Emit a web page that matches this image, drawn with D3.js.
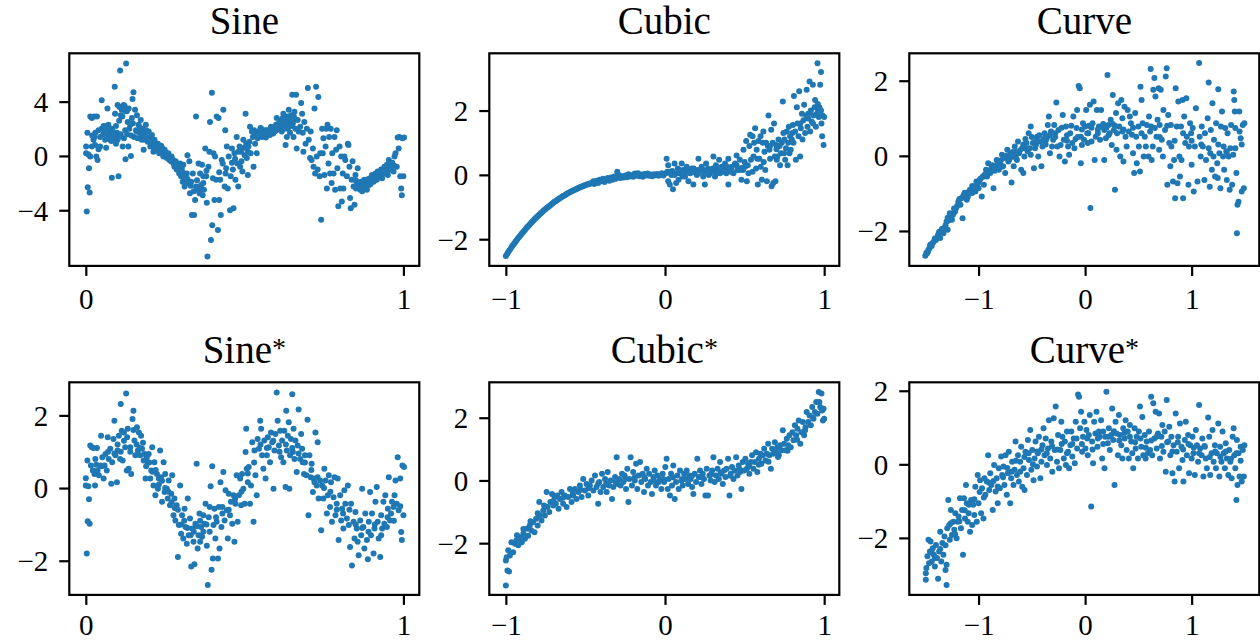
<!DOCTYPE html>
<html><head><meta charset="utf-8">
<script src="https://cdn.jsdelivr.net/npm/d3@7"></script>
<style>
body{margin:0;background:#fff}
svg{display:block}
</style>
</head><body>
<svg id="chart" width="1260" height="642"></svg>
<script>
// ---------- data ----------
const titles = ["Sine", "Cubic", "Curve", "Sine", "Cubic", "Curve"];
const starred = [false, false, false, true, true, true];
const xTicks = [[0, 1], [-1, 0, 1], [-1, 0, 1], [0, 1], [-1, 0, 1], [-1, 0, 1]];
const yTicks = [[-4, 0, 4], [-2, 0, 2], [-2, 0, 2], [-2, 0, 2], [-2, 0, 2], [-2, 0, 2]];
const xLims = [[-0.052, 1.05], [-1.104, 1.095], [-1.65, 1.635], [-0.052, 1.05], [-1.104, 1.095], [-1.65, 1.635]];
const yLims = [[-8.1, 7.56], [-2.83, 3.78], [-2.93, 2.73], [-2.94, 2.91], [-3.65, 3.13], [-3.55, 2.23]];

const sine = [[0.001,0.2],[0.001,0.7],[0.003,-4.1],[0.005,1.7],[0.006,-2.3],[0.012,-2.7],[0.01,-0.9],[0.008,0.1],[0.014,-0.05],[0.014,2.9],[0.019,2.8],[0.026,2.9],[0.035,2.9],[0.024,1.2],[0.019,0.7],[0.029,0.8],[0.033,-0.05],[0.037,-0.3],[0.027,1.4],[0.04,1.9],[0.045,1.4],[0.05,4.1],[0.045,0.7],[0.05,2.0],[0.056,2.2],[0.061,1.2],[0.064,0.6],[0.068,3.5],[0.066,2.2],[0.071,2.3],[0.075,1.7],[0.077,1.2],[0.082,-1.6],[0.082,2.0],[0.087,1.4],[0.091,5.1],[0.092,3.1],[0.095,0.9],[0.098,1.7],[0.103,-1.5],[0.1,3.75],[0.106,3.6],[0.103,1.4],[0.108,6.3],[0.11,3.0],[0.113,3.4],[0.116,0.7],[0.119,3.75],[0.122,3.7],[0.125,-0.25],[0.127,6.8],[0.124,1.9],[0.129,3.3],[0.132,2.5],[0.134,0.7],[0.137,2.0],[0.142,0.0],[0.143,1.5],[0.147,4.2],[0.15,4.7],[0.148,2.4],[0.155,3.4],[0.152,1.4],[0.158,1.9],[0.161,3.0],[0.163,1.3],[0.166,2.3],[0.169,1.7],[0.173,2.65],[0.176,1.2],[0.179,2.0],[0.182,0.45],[0.185,1.7],[0.189,2.3],[0.192,1.4],[0.195,1.05],[0.198,1.8],[0.203,0.7],[0.206,1.3],[0.208,1.55],[0.211,0.9],[0.213,0.3],[0.216,1.2],[0.219,0.7],[0.224,0.45],[0.227,0.9],[0.231,0.2],[0.234,0.55],[0.237,0.75],[0.241,0.3],[0.244,-0.05],[0.248,0.45],[0.252,0.1],[0.255,-0.15],[0.26,-0.05],[0.263,-0.3],[0.268,-0.4],[0.271,-0.25],[0.276,-0.55],[0.279,-0.8],[0.283,-0.4],[0.286,-1.0],[0.29,-0.65],[0.294,-1.3],[0.297,-0.55],[0.3,-1.5],[0.302,-0.9],[0.305,-1.9],[0.307,-0.65],[0.311,-2.25],[0.314,-1.65],[0.318,-1.3],[0.32,0.05],[0.323,-2.0],[0.326,-0.4],[0.328,-2.75],[0.332,-1.9],[0.334,-4.35],[0.337,-1.3],[0.341,-4.35],[0.344,-3.25],[0.347,2.9],[0.347,-2.25],[0.351,-2.5],[0.355,-0.55],[0.358,-2.75],[0.36,-1.3],[0.363,-2.15],[0.366,-0.65],[0.368,-2.9],[0.37,-1.5],[0.372,-2.5],[0.376,0.55],[0.379,-1.5],[0.381,-3.45],[0.383,-7.4],[0.386,-0.8],[0.389,0.3],[0.391,2.5],[0.394,-6.2],[0.397,4.65],[0.398,-5.1],[0.4,-1.65],[0.402,0.2],[0.405,-3.25],[0.407,-0.05],[0.41,-1.75],[0.412,2.9],[0.416,-5.45],[0.418,2.8],[0.42,-3.25],[0.423,-1.75],[0.425,-4.35],[0.428,-0.3],[0.431,-0.55],[0.433,3.4],[0.437,-2.25],[0.439,1.9],[0.442,-0.9],[0.444,0.7],[0.447,-2.4],[0.45,-0.05],[0.454,-4.0],[0.456,-1.5],[0.46,0.55],[0.463,-1.0],[0.465,-3.85],[0.468,0.2],[0.471,-1.75],[0.475,1.4],[0.477,-0.55],[0.48,-2.25],[0.484,0.7],[0.486,-0.8],[0.489,0.3],[0.493,-1.15],[0.496,1.2],[0.5,0.05],[0.503,3.1],[0.505,0.9],[0.507,-0.15],[0.51,-1.4],[0.512,0.7],[0.515,1.05],[0.517,2.15],[0.519,0.2],[0.523,1.8],[0.526,1.4],[0.528,-0.8],[0.531,1.55],[0.533,0.9],[0.536,1.7],[0.538,0.2],[0.541,1.3],[0.545,1.8],[0.549,1.55],[0.552,2.0],[0.555,1.4],[0.559,1.7],[0.562,1.8],[0.567,1.35],[0.57,1.9],[0.573,1.7],[0.577,1.85],[0.58,1.55],[0.583,2.15],[0.588,1.8],[0.591,2.0],[0.595,1.8],[0.599,2.3],[0.601,2.8],[0.604,2.0],[0.608,2.4],[0.612,2.15],[0.615,2.65],[0.617,1.8],[0.62,2.5],[0.622,3.1],[0.625,2.3],[0.629,0.8],[0.631,2.8],[0.633,1.4],[0.636,2.0],[0.639,3.4],[0.641,2.65],[0.643,1.7],[0.646,3.0],[0.65,4.5],[0.652,2.4],[0.654,1.4],[0.657,3.25],[0.66,2.0],[0.662,4.5],[0.664,0.55],[0.667,2.65],[0.67,1.8],[0.675,2.15],[0.678,3.9],[0.681,3.1],[0.683,1.7],[0.685,0.3],[0.688,2.5],[0.692,0.9],[0.696,2.0],[0.699,5.0],[0.702,1.2],[0.706,-0.15],[0.708,1.8],[0.711,-0.3],[0.715,0.55],[0.717,-0.8],[0.72,3.5],[0.722,-1.3],[0.725,5.1],[0.727,-0.05],[0.73,-1.0],[0.732,4.35],[0.736,-1.5],[0.738,0.2],[0.741,-4.7],[0.744,2.0],[0.746,0.2],[0.748,1.3],[0.751,-1.4],[0.755,0.7],[0.757,2.0],[0.759,-2.4],[0.761,2.3],[0.764,-0.55],[0.766,1.4],[0.769,-1.3],[0.771,2.0],[0.774,-2.0],[0.776,0.2],[0.78,-1.3],[0.783,1.4],[0.785,-2.5],[0.788,0.45],[0.79,1.9],[0.792,-0.9],[0.795,-3.7],[0.799,0.7],[0.801,-2.4],[0.804,-0.05],[0.806,-3.35],[0.809,-1.3],[0.811,-2.4],[0.814,-0.05],[0.817,-0.3],[0.822,-1.5],[0.825,0.9],[0.827,0.8],[0.83,-0.8],[0.832,-3.1],[0.834,-3.85],[0.837,-1.75],[0.84,-0.4],[0.843,-2.25],[0.846,-3.6],[0.849,-1.4],[0.851,-2.4],[0.853,-1.9],[0.856,-0.9],[0.859,-2.15],[0.864,-2.5],[0.867,-1.9],[0.87,-2.6],[0.874,-2.15],[0.877,-1.75],[0.88,-2.25],[0.885,-2.5],[0.888,-1.9],[0.891,-2.15],[0.895,-1.65],[0.898,-2.0],[0.901,-1.4],[0.906,-1.9],[0.909,-1.5],[0.912,-1.3],[0.916,-1.75],[0.919,-1.15],[0.922,-1.5],[0.927,-1.4],[0.93,-1.0],[0.933,-1.65],[0.937,-1.3],[0.94,-0.8],[0.943,-1.3],[0.948,-0.65],[0.951,-1.4],[0.954,-0.3],[0.958,-1.0],[0.961,-0.55],[0.964,-0.8],[0.969,-1.15],[0.972,-0.05],[0.975,0.2],[0.979,-0.8],[0.982,1.35],[0.985,0.55],[0.987,1.4],[0.99,-1.5],[0.993,-2.4],[0.995,-2.9],[0.997,1.3],[1.0,-1.5],[1.002,1.35]];
const sineDense = [[0.16,1.8],[0.17,2.1],[0.175,1.5],[0.185,1.2],[0.19,1.9],[0.2,1.1],[0.205,0.95],[0.21,1.1],[0.215,0.6],[0.22,0.95],[0.225,0.7],[0.23,0.55],[0.235,0.3],[0.24,0.6],[0.245,0.15],[0.25,0.3],[0.255,0.0],[0.26,0.2],[0.265,-0.15],[0.27,-0.05],[0.275,-0.3],[0.28,-0.55],[0.285,-0.65],[0.29,-0.9],[0.295,-1.05],[0.3,-0.7],[0.305,-1.2],[0.31,-1.5],[0.315,-2.0],[0.32,-1.7],[0.02,1.5],[0.03,1.7],[0.04,0.5],[0.055,1.6],[0.06,1.9],[0.07,1.5],[0.075,2.0],[0.08,1.1],[0.085,1.8],[0.09,1.3],[0.095,2.2],[0.1,1.2],[0.105,2.6],[0.11,1.6],[0.115,2.9],[0.12,1.3],[0.125,3.3],[0.13,1.6],[0.135,3.5],[0.14,2.3],[0.145,2.8],[0.53,1.9],[0.54,1.5],[0.545,1.6],[0.55,2.05],[0.56,1.5],[0.565,1.9],[0.575,1.6],[0.58,1.95],[0.59,1.65],[0.595,2.1],[0.6,1.9],[0.605,2.3],[0.61,2.0],[0.615,2.3],[0.62,2.8],[0.625,2.0],[0.63,2.5],[0.635,2.9],[0.64,2.3],[0.645,2.5],[0.65,2.2],[0.655,2.9],[0.66,2.7],[0.85,-1.8],[0.86,-2.3],[0.865,-2.1],[0.87,-1.9],[0.875,-2.4],[0.88,-1.95],[0.885,-2.2],[0.89,-1.7],[0.895,-2.1],[0.9,-1.8],[0.905,-1.6],[0.91,-1.8],[0.915,-1.4],[0.92,-1.6],[0.925,-1.2],[0.93,-1.45],[0.935,-1.1],[0.94,-1.25],[0.945,-1.0],[0.95,-1.15],[0.955,-0.75],[0.96,-0.95],[0.965,-0.5],[0.97,-0.7],[0.33,-2.2],[0.34,-2.6],[0.35,-1.8],[0.36,-2.4],[0.37,-2.0],[0.38,-1.1],[0.42,-1.2],[0.44,-1.3],[0.46,-0.5],[0.47,-0.2],[0.48,0.3],[0.49,-0.4],[0.5,0.6],[0.51,0.3]];

const cubic = [[-1.0,-2.52],[-0.992,-2.46],[-0.985,-2.40],[-0.977,-2.34],[-0.97,-2.29],[-0.962,-2.23],[-0.955,-2.18],[-0.947,-2.13],[-0.94,-2.08],[-0.932,-2.03],[-0.925,-1.98],[-0.917,-1.93],[-0.91,-1.89],[-0.902,-1.84],[-0.895,-1.80],[-0.887,-1.75],[-0.88,-1.71],[-0.872,-1.66],[-0.865,-1.62],[-0.857,-1.58],[-0.85,-1.54],[-0.842,-1.50],[-0.835,-1.46],[-0.827,-1.42],[-0.82,-1.38],[-0.812,-1.34],[-0.805,-1.31],[-0.797,-1.27],[-0.79,-1.24],[-0.782,-1.20],[-0.775,-1.17],[-0.767,-1.13],[-0.76,-1.10],[-0.752,-1.07],[-0.745,-1.04],[-0.737,-1.01],[-0.73,-0.98],[-0.722,-0.95],[-0.715,-0.92],[-0.707,-0.89],[-0.70,-0.86],[-0.692,-0.83],[-0.685,-0.81],[-0.677,-0.78],[-0.67,-0.76],[-0.662,-0.73],[-0.655,-0.71],[-0.647,-0.68],[-0.64,-0.66],[-0.632,-0.64],[-0.625,-0.62],[-0.617,-0.59],[-0.61,-0.57],[-0.602,-0.55],[-0.595,-0.53],[-0.587,-0.51],[-0.58,-0.49],[-0.572,-0.47],[-0.565,-0.46],[-0.557,-0.44],[-0.55,-0.42],[-0.542,-0.40],[-0.535,-0.39],[-0.527,-0.37],[-0.52,-0.36],[-0.512,-0.34],[-0.505,-0.33],[-0.497,-0.31],[-0.49,-0.30],[-0.482,-0.29],[-0.475,-0.28],[-0.467,-0.26],[-0.46,-0.25],[-0.45,-0.20],[-0.445,-0.28],[-0.44,-0.22],[-0.43,-0.18],[-0.42,-0.25],[-0.41,-0.15],[-0.40,-0.20],[-0.39,-0.12],[-0.38,-0.22],[-0.37,-0.14],[-0.36,-0.10],[-0.35,-0.18],[-0.34,-0.08],[-0.33,-0.15],[-0.32,-0.05],[-0.31,-0.12],[-0.30,-0.09],[-0.30,0.10],[-0.29,0.0],[-0.28,-0.10],[-0.27,-0.04],[-0.26,-0.08],[-0.25,-0.02],[-0.24,-0.07],[-0.23,0.02],[-0.22,-0.05],[-0.21,-0.01],[-0.20,-0.06],[-0.19,0.04],[-0.18,-0.03],[-0.17,0.05],[-0.16,-0.04],[-0.15,0.01],[-0.14,-0.06],[-0.13,0.03],[-0.12,-0.02],[-0.11,0.04],[-0.10,-0.03],[-0.09,0.01],[-0.08,-0.04],[-0.07,0.02],[-0.06,-0.01],[-0.05,0.03],[-0.04,-0.03],[-0.03,0.01],[-0.02,0.05],[-0.01,-0.02],
[0.01,0.5],[0.02,0.3],[0.006,0.05],[0.02,-0.2],[0.03,-0.3],[0.04,0.0],[0.05,-0.45],[0.06,0.35],[0.07,-0.25],[0.08,0.2],[0.085,-0.15],[0.094,0.05],[0.105,0.35],[0.115,0.15],[0.126,-0.05],[0.136,0.25],[0.147,-0.2],[0.157,0.05],[0.168,0.2],[0.178,-0.3],[0.189,0.1],[0.2,0.0],[0.21,0.5],[0.22,0.15],[0.23,0.25],[0.24,-0.05],[0.25,-0.3],[0.258,0.35],[0.266,0.1],[0.27,0.2],[0.283,0.05],[0.293,0.15],[0.304,0.57],[0.314,-0.05],[0.32,0.3],[0.33,0.15],[0.34,0.47],[0.346,0.05],[0.356,0.25],[0.367,0.1],[0.377,0.35],[0.388,0.2],[0.398,-0.3],[0.398,0.5],[0.41,0.15],[0.42,0.25],[0.43,0.05],[0.44,0.35],[0.45,0.6],[0.46,0.2],[0.47,0.47],[0.48,-0.15],[0.49,0.15],[0.493,0.78],[0.503,0.25],[0.51,1.05],[0.514,-0.2],[0.524,0.05],[0.53,0.9],[0.535,1.25],[0.54,0.47],[0.55,1.2],[0.556,0.57],[0.56,1.0],[0.566,1.45],[0.572,0.2],[0.576,0.78],[0.583,-0.3],[0.587,1.05],[0.593,0.5],[0.6,1.2],[0.602,0.25],[0.608,-0.15],[0.614,1.0],[0.618,1.35],[0.625,0.72],[0.63,0.15],[0.635,1.0],[0.64,-0.2],[0.646,0.9],[0.65,1.85],[0.656,0.78],[0.66,0.5],[0.667,1.4],[0.67,-0.35],[0.677,1.0],[0.68,-0.25],[0.685,1.6],[0.69,0.57],[0.694,-0.2],[0.698,0.93],[0.702,0.47],[0.706,0.57],[0.713,1.1],[0.72,0.9],[0.723,0.3],[0.727,0.67],[0.734,1.0],[0.74,2.28],[0.744,1.3],[0.748,0.67],[0.755,0.47],[0.76,0.83],[0.765,1.35],[0.77,0.3],[0.774,1.0],[0.778,1.5],[0.782,0.67],[0.786,1.2],[0.79,0.78],[0.797,1.1],[0.803,1.55],[0.807,1.0],[0.81,2.45],[0.818,1.35],[0.822,0.47],[0.828,2.1],[0.832,1.6],[0.839,1.2],[0.843,2.6],[0.849,0.57],[0.853,1.45],[0.86,1.9],[0.864,1.1],[0.87,1.7],[0.874,2.18],[0.88,1.3],[0.887,1.85],[0.89,2.65],[0.895,1.5],[0.9,1.75],[0.908,2.9],[0.912,1.35],[0.916,2.0],[0.922,1.65],[0.929,2.8],[0.933,1.85],[0.94,2.1],[0.943,2.33],[0.948,1.5],[0.954,1.9],[0.958,3.47],[0.962,2.0],[0.966,1.8],[0.97,2.1],[0.975,2.8],[0.98,3.2],[0.983,1.6],[0.987,1.2],[0.99,1.85],[0.996,0.93],[1.0,1.8]];
const cubicDense = [[0.015,0.1],[0.045,0.12],[0.075,0.05],[0.11,-0.05],[0.14,0.12],[0.175,0.08],[0.205,0.15],[0.245,0.1],[0.275,0.0],[0.31,0.12],[0.35,0.18],[0.385,0.05],[0.415,0.1],[0.455,0.15],[0.485,0.22],[0.03,0.1],[0.06,0.0],[0.09,0.15],[0.12,0.0],[0.15,0.1],[0.18,0.2],[0.21,0.05],[0.24,0.15],[0.27,0.1],[0.3,0.2],[0.33,0.05],[0.36,0.15],[0.39,0.25],[0.42,0.1],[0.45,0.3],[0.47,0.15],[0.5,0.4],[0.52,0.3],[0.55,0.1],[0.58,0.5],[0.62,0.4],[0.66,0.9],[0.7,0.8],[0.75,1.1],[0.8,1.3],[0.85,1.6],[0.9,1.9],[0.93,1.6],[0.96,2.2],[0.98,2.0]];

const curve = [[-1.5,-2.66],[-1.475,-2.55],[-1.46,-2.46],[-1.44,-2.4],[-1.43,-2.32],[-1.40,-2.24],[-1.38,-2.1],[-1.36,-2.19],[-1.35,-2.01],[-1.33,-2.06],[-1.32,-1.92],[-1.30,-1.75],[-1.29,-1.97],[-1.27,-1.61],[-1.27,-1.53],[-1.25,-1.7],[-1.24,-1.57],[-1.22,-1.48],[-1.21,-1.39],[-1.19,-1.22],[-1.17,-1.3],[-1.16,-1.13],[-1.15,-1.66],[-1.14,-1.04],[-1.13,-0.98],[-1.11,-1.17],[-1.10,-1.08],[-1.08,-0.9],[-1.06,-0.99],[-1.05,-0.82],[-1.03,-0.95],[-1.02,-0.68],[-1.0,-0.86],[-0.99,-0.64],[-0.97,-1.08],[-0.96,-0.55],[-0.95,-0.77],[-0.93,-0.37],[-0.92,-0.55],[-0.91,-0.2],[-0.89,-0.46],[-0.88,-0.33],[-0.86,-0.86],[-0.84,-0.28],[-0.83,-0.11],[-0.81,-0.37],[-0.8,-0.2],[-0.78,0.03],[-0.77,-0.28],[-0.76,-0.06],[-0.75,-0.46],[-0.73,0.16],[-0.72,-0.15],[-0.70,0.07],[-0.69,-0.71],[-0.68,-0.02],[-0.67,-0.28],[-0.66,0.25],[-0.64,-0.11],[-0.63,0.38],[-0.62,0.07],[-0.60,-0.37],[-0.59,0.2],[-0.58,-0.46],[-0.57,-0.02],[-0.55,0.34],[-0.54,0.12],[-0.53,0.6],[-0.51,0.78],[-0.51,0.03],[-0.49,0.34],[-0.48,-0.33],[-0.47,0.2],[-0.45,0.51],[-0.44,-0.02],[-0.42,0.38],[-0.41,-0.28],[-0.40,0.25],[-0.38,0.6],[-0.36,0.47],[-0.35,0.82],[-0.34,1.05],[-0.33,0.07],[-0.32,0.65],[-0.30,0.43],[-0.29,0.82],[-0.27,1.42],[-0.26,0.25],[-0.25,0.69],[-0.24,-0.02],[-0.23,0.29],[-0.21,1.09],[-0.2,0.43],[-0.19,-0.15],[-0.18,0.78],[-0.16,0.25],[-0.15,0.03],[-0.14,0.6],[-0.12,0.34],[-0.11,1.05],[-0.10,0.2],[-0.08,0.74],[-0.075,1.22],[-0.06,1.86],[-0.05,1.8],[-0.04,0.51],[-0.04,-0.2],[-0.03,0.29],[-0.02,0.87],[-0.01,0.43],[0.0,0.78],[0.01,1.22],[0.025,0.34],[0.035,0.8],[0.045,1.36],[0.05,-1.39],[0.06,0.38],[0.07,0.87],[0.08,1.45],[0.09,-0.11],[0.1,0.51],[0.11,1.22],[0.13,0.78],[0.14,0.43],[0.15,1.22],[0.16,0.78],[0.18,-0.11],[0.18,0.69],[0.195,0.47],[0.21,2.15],[0.22,0.82],[0.23,0.6],[0.24,0.96],[0.25,0.29],[0.26,1.62],[0.27,0.69],[0.28,-0.9],[0.29,1.14],[0.295,0.16],[0.31,1.4],[0.32,0.78],[0.33,-0.02],[0.34,1.49],[0.35,1.0],[0.36,-0.15],[0.37,1.31],[0.38,0.51],[0.39,0.25],[0.4,1.22],[0.41,0.65],[0.42,1.05],[0.43,0.87],[0.44,0.56],[0.45,0.07],[0.46,-0.46],[0.47,1.14],[0.48,0.51],[0.485,-0.2],[0.5,0.78],[0.505,0.25],[0.515,-0.42],[0.52,1.84],[0.53,1.49],[0.54,0.87],[0.55,-0.02],[0.56,0.51],[0.57,0.25],[0.58,0.82],[0.595,-0.02],[0.6,1.05],[0.61,0.65],[0.615,2.31],[0.625,-0.11],[0.635,0.25],[0.64,1.76],[0.65,2.07],[0.655,0.74],[0.66,1.58],[0.67,0.51],[0.68,0.96],[0.69,1.8],[0.695,0.16],[0.7,0.82],[0.71,1.76],[0.72,0.43],[0.73,-0.02],[0.735,1.22],[0.75,0.69],[0.757,2.11],[0.766,2.33],[0.772,-0.77],[0.78,1.09],[0.79,0.34],[0.8,-0.28],[0.805,0.82],[0.81,0.25],[0.825,-0.68],[0.835,-0.11],[0.845,-1.13],[0.85,1.8],[0.86,0.78],[0.867,-0.73],[0.875,1.45],[0.885,-0.02],[0.89,-0.55],[0.9,0.78],[0.905,-0.11],[0.915,1.49],[0.92,-1.13],[0.93,1.05],[0.94,0.34],[0.95,1.53],[0.955,0.51],[0.97,-0.77],[0.975,0.25],[0.985,0.87],[0.995,0.6],[1.0,-0.24],[1.01,0.74],[1.02,-0.95],[1.03,0.25],[1.04,1.27],[1.055,-0.68],[1.07,2.47],[1.075,0.51],[1.085,-0.02],[1.095,0.78],[1.105,0.25],[1.12,-0.64],[1.125,0.6],[1.135,-0.11],[1.15,1.0],[1.16,1.95],[1.17,-0.82],[1.175,0.07],[1.18,0.69],[1.19,-0.37],[1.195,1.4],[1.205,-0.02],[1.21,0.43],[1.22,-0.55],[1.23,0.87],[1.24,-0.2],[1.245,-0.59],[1.25,1.77],[1.26,0.07],[1.27,-0.86],[1.275,0.78],[1.285,1.18],[1.295,-0.02],[1.3,0.25],[1.305,-0.37],[1.315,0.74],[1.325,0.12],[1.33,-0.64],[1.337,0.6],[1.347,-0.02],[1.357,-0.9],[1.363,0.2],[1.37,0.82],[1.38,-0.77],[1.39,0.03],[1.395,1.71],[1.4,1.49],[1.405,1.18],[1.41,0.74],[1.42,-0.46],[1.425,-2.06],[1.43,-1.3],[1.44,-1.22],[1.447,1.18],[1.45,0.65],[1.46,0.47],[1.47,-0.95],[1.48,0.82],[1.49,-0.86],[1.495,0.87]];
const curveDense = [[-1.485,-2.6],[-1.45,-2.36],[-1.39,-2.18],[-1.34,-1.98],[-1.28,-1.72],[-1.23,-1.5],[-1.18,-1.28],[-1.12,-1.1],[-1.07,-0.95],[-1.01,-0.75],[-0.94,-0.5],[-0.87,-0.3],[-0.79,-0.12],[-0.71,-0.05],[-0.65,0.1],[-0.56,0.2],[-0.46,0.3],[-0.37,0.4],[-0.28,0.5],[-0.17,0.55],[-0.07,0.5],[0.03,0.6],[0.12,0.7],[0.2,0.75],[0.28,0.8],[0.36,0.7],[0.45,0.75],[0.53,0.6],[0.62,0.78],[0.7,0.5],[0.77,0.8],[0.84,0.4],[0.92,0.6],[1.0,0.4],[1.09,0.3],[1.16,0.2],[1.25,0.3],[1.33,0.1],[1.41,0.2],[1.47,0.3],[-1.49,-2.58],[-1.47,-2.5],[-1.455,-2.38],[-1.42,-2.28],[-1.41,-2.2],[-1.37,-2.02],[-1.345,-1.95],[-1.31,-1.85],[-1.29,-1.65],[-1.26,-1.58],[-1.23,-1.4],[-1.2,-1.33],[-1.18,-1.15],[-1.15,-1.1],[-1.12,-1.0],[-1.09,-0.95],[-1.06,-0.8],[-1.04,-0.85],[-1.0,-0.7],[-0.98,-0.6],[-0.95,-0.55],[-0.93,-0.5],[-0.9,-0.4],[-0.87,-0.25],[-0.85,-0.4],[-0.82,-0.2],[-0.79,-0.3],[-0.74,0.0],[-0.71,-0.1],[-0.68,0.1],[-0.65,-0.05],[-0.61,0.15],[-0.58,0.3],[-0.56,0.45],[-0.52,0.2],[-0.5,0.5],[-0.46,0.4],[-0.43,0.55],[-0.39,0.45],[-0.37,0.3],[-0.33,0.55],[-0.31,0.25],[-0.28,0.6],[-0.22,0.75],[-0.17,0.4],[-0.13,0.8],[-0.09,0.45],[-0.03,0.7],[0.02,0.6],[0.06,0.75],[0.12,0.6],[0.17,0.85],[0.22,0.55],[0.26,0.85],[0.3,0.6],[0.35,0.65]];

const sineStar = [[0.0,0.07],[0.0,0.27],[0.003,-1.8],[0.005,0.76],[0.006,-0.91],[0.012,-0.98],[0.01,-0.31],[0.008,0.05],[0.014,1.17],[0.019,1.12],[0.024,1.1],[0.029,0.07],[0.035,1.1],[0.016,0.62],[0.022,0.48],[0.027,0.39],[0.033,0.64],[0.037,0.48],[0.041,0.35],[0.045,0.62],[0.048,1.44],[0.052,0.85],[0.056,0.26],[0.059,0.62],[0.062,0.94],[0.066,0.48],[0.069,1.4],[0.072,0.8],[0.077,1.08],[0.08,0.12],[0.083,0.71],[0.087,1.35],[0.09,1.85],[0.093,0.9],[0.098,0.16],[0.1,1.03],[0.104,1.44],[0.108,0.8],[0.11,2.31],[0.113,1.58],[0.116,0.76],[0.12,1.53],[0.124,1.12],[0.127,2.6],[0.129,0.48],[0.132,1.63],[0.135,0.53],[0.14,1.12],[0.143,0.39],[0.147,1.9],[0.15,2.13],[0.153,1.31],[0.156,0.9],[0.161,1.67],[0.164,1.03],[0.167,1.53],[0.171,0.9],[0.174,1.44],[0.177,1.08],[0.182,0.76],[0.185,0.94],[0.188,0.26],[0.192,0.85],[0.195,0.71],[0.198,0.94],[0.203,0.26],[0.206,0.48],[0.209,1.12],[0.213,0.07],[0.216,0.71],[0.219,-0.2],[0.224,0.39],[0.227,-0.02],[0.23,0.26],[0.234,1.03],[0.237,0.3],[0.24,-0.38],[0.245,0.71],[0.248,-0.11],[0.25,0.39],[0.255,-0.02],[0.258,-0.29],[0.261,0.21],[0.265,-0.47],[0.269,-0.16],[0.272,0.35],[0.276,-0.75],[0.279,-0.29],[0.282,-0.89],[0.286,-0.47],[0.29,-1.9],[0.293,-1.02],[0.297,0.07],[0.3,-1.26],[0.303,-0.75],[0.307,-1.39],[0.311,-0.57],[0.314,-1.07],[0.318,-1.53],[0.321,-0.29],[0.324,-1.3],[0.328,-0.84],[0.332,-2.16],[0.335,-1.11],[0.339,-1.48],[0.342,-2.1],[0.345,-0.98],[0.349,0.67],[0.352,-1.66],[0.355,-1.3],[0.358,-0.7],[0.36,-1.48],[0.363,-1.07],[0.366,-1.34],[0.37,-0.75],[0.374,-0.98],[0.377,-0.43],[0.381,-1.59],[0.384,-2.67],[0.387,-0.8],[0.39,-0.52],[0.393,0.05],[0.396,-2.25],[0.398,0.6],[0.4,-1.94],[0.402,-1.02],[0.405,-0.57],[0.408,-1.39],[0.412,-0.93],[0.416,-1.94],[0.419,-0.52],[0.421,-1.66],[0.424,0.16],[0.427,-1.07],[0.43,-0.52],[0.433,0.44],[0.437,-0.89],[0.44,-0.06],[0.444,-0.61],[0.447,-1.39],[0.45,-0.16],[0.454,-0.75],[0.457,-0.38],[0.461,-0.98],[0.465,-0.2],[0.468,-1.48],[0.471,-0.43],[0.475,0.35],[0.478,-0.93],[0.482,-0.2],[0.486,0.26],[0.489,-0.47],[0.492,0.39],[0.496,-0.02],[0.5,-0.43],[0.503,0.99],[0.505,1.63],[0.507,0.53],[0.51,0.16],[0.513,0.58],[0.517,-0.43],[0.52,0.07],[0.524,1.26],[0.528,-0.93],[0.531,1.03],[0.534,0.35],[0.538,-0.2],[0.541,1.35],[0.545,1.08],[0.549,1.85],[0.552,1.63],[0.555,0.9],[0.559,0.53],[0.562,1.31],[0.566,0.26],[0.57,0.9],[0.573,1.4],[0.576,1.12],[0.58,0.71],[0.583,1.53],[0.587,1.26],[0.591,-0.02],[0.594,1.03],[0.597,1.49],[0.601,2.63],[0.604,1.85],[0.608,1.17],[0.612,1.58],[0.615,0.85],[0.618,1.31],[0.622,0.71],[0.625,1.58],[0.629,0.03],[0.631,2.13],[0.633,1.03],[0.636,1.44],[0.639,1.81],[0.641,-0.02],[0.643,0.9],[0.646,1.35],[0.65,2.58],[0.652,0.99],[0.654,1.63],[0.657,0.8],[0.66,1.31],[0.664,0.44],[0.667,1.17],[0.67,2.16],[0.675,0.8],[0.678,1.49],[0.681,1.08],[0.683,0.71],[0.687,0.39],[0.69,0.9],[0.694,0.35],[0.698,1.88],[0.701,-0.75],[0.704,0.9],[0.708,0.3],[0.711,0.67],[0.715,-0.11],[0.717,0.26],[0.72,0.16],[0.723,1.53],[0.727,0.07],[0.73,1.26],[0.733,-0.29],[0.738,0.21],[0.741,-1.16],[0.744,0.07],[0.748,-0.29],[0.751,0.53],[0.755,0.21],[0.759,-0.7],[0.762,-0.2],[0.765,0.35],[0.769,-0.52],[0.772,0.16],[0.775,-0.93],[0.78,-0.25],[0.783,0.3],[0.786,-0.75],[0.79,-0.43],[0.793,0.26],[0.796,-1.43],[0.801,-0.2],[0.804,-0.89],[0.807,-0.57],[0.811,-1.11],[0.814,-0.06],[0.817,-0.43],[0.822,-0.84],[0.825,0.07],[0.828,-1.02],[0.832,-1.62],[0.835,-0.43],[0.838,-2.13],[0.843,-0.93],[0.846,-1.39],[0.849,-0.66],[0.853,-1.11],[0.856,-1.48],[0.859,-1.85],[0.864,-0.89],[0.867,-1.3],[0.87,-0.02],[0.874,-1.07],[0.877,-1.66],[0.88,-0.7],[0.885,-1.43],[0.888,-1.96],[0.891,-0.93],[0.895,-0.11],[0.898,-1.3],[0.901,-0.7],[0.906,-1.8],[0.909,-1.11],[0.912,-0.38],[0.916,0.03],[0.919,-0.93],[0.922,-1.39],[0.927,-1.9],[0.93,-0.75],[0.933,-1.11],[0.937,-0.38],[0.94,-0.98],[0.943,-0.2],[0.948,-1.07],[0.951,-0.57],[0.954,0.3],[0.958,-0.89],[0.961,-0.7],[0.964,-0.38],[0.969,-0.52],[0.972,-0.2],[0.975,0.21],[0.979,-0.43],[0.982,0.85],[0.985,-0.61],[0.99,0.26],[0.993,-1.21],[0.995,-1.43],[0.997,0.62],[1.0,-0.75],[1.002,0.58]];
const sineStarDense = [[0.03,0.8],[0.05,0.6],[0.07,1.0],[0.09,0.95],[0.1,1.2],[0.11,1.0],[0.12,1.3],[0.13,1.4],[0.14,1.0],[0.15,1.6],[0.16,1.2],[0.17,1.1],[0.18,1.25],[0.19,0.6],[0.2,0.7],[0.21,0.45],[0.22,0.5],[0.23,0.1],[0.24,0.2],[0.25,0.0],[0.26,-0.1],[0.27,-0.4],[0.28,-0.55],[0.29,-0.6],[0.3,-1.0],[0.31,-0.9],[0.32,-1.1],[0.33,-1.3],[0.34,-1.2],[0.35,-1.05],[0.36,-0.9],[0.37,-1.2],[0.38,-1.0],[0.39,-1.2],[0.41,-0.8],[0.43,-0.7],[0.45,-0.6],[0.47,-0.3],[0.49,-0.1],[0.51,0.4],[0.53,0.7],[0.55,1.2],[0.57,1.1],[0.59,1.3],[0.61,1.0],[0.63,1.2],[0.65,1.1],[0.67,0.95],[0.69,0.7],[0.71,0.5],[0.73,0.3],[0.75,0.0],[0.77,-0.1],[0.79,-0.6],[0.81,-0.7],[0.83,-0.6],[0.85,-1.0],[0.87,-1.1],[0.89,-1.2],[0.91,-1.0],[0.93,-1.3],[0.95,-0.8],[0.97,-0.9],[0.99,-0.5]];

const cubicStar = [[-1.0,-3.35],[-1.0,-2.55],[-0.99,-2.87],[-0.98,-2.9],[-0.995,-2.45],[-0.985,-2.23],[-0.975,-2.39],[-0.965,-1.97],[-0.954,-2.29],[-0.943,-2.02],[-0.933,-1.91],[-0.922,-2.07],[-0.912,-1.81],[-0.9,-1.97],[-0.89,-1.7],[-0.88,-1.86],[-0.87,-1.54],[-0.86,-1.76],[-0.85,-1.44],[-0.84,-1.6],[-0.83,-1.33],[-0.82,-1.65],[-0.81,-1.22],[-0.8,-1.44],[-0.79,-0.69],[-0.786,-1.12],[-0.776,-1.28],[-0.765,-0.96],[-0.755,-1.12],[-0.744,-0.37],[-0.738,-0.85],[-0.727,-1.01],[-0.72,-0.69],[-0.71,-0.43],[-0.702,-0.8],[-0.694,-0.53],[-0.686,-0.74],[-0.677,-0.48],[-0.669,-0.9],[-0.66,-0.59],[-0.65,-0.37],[-0.64,-0.74],[-0.63,-0.48],[-0.618,-0.85],[-0.608,-0.53],[-0.597,-0.27],[-0.587,-0.69],[-0.577,-0.48],[-0.566,-0.27],[-0.556,-0.59],[-0.545,-0.37],[-0.535,-0.16],[-0.524,-0.53],[-0.514,0.05],[-0.503,-0.32],[-0.493,-0.11],[-0.482,-0.48],[-0.472,-0.16],[-0.461,0.0],[-0.45,-0.32],[-0.44,0.16],[-0.43,-0.21],[-0.42,-0.74],[-0.413,-0.05],[-0.405,-0.37],[-0.396,0.21],[-0.388,-0.21],[-0.377,0.05],[-0.367,-0.37],[-0.36,0.27],[-0.352,-0.16],[-0.342,0.0],[-0.333,-0.59],[-0.325,-0.21],[-0.314,0.11],[-0.304,0.74],[-0.298,-0.11],[-0.287,0.05],[-0.279,-0.16],[-0.27,0.21],[-0.262,-0.05],[-0.254,0.16],[-0.245,-0.27],[-0.237,0.37],[-0.23,-0.69],[-0.224,0.05],[-0.216,0.74],[-0.208,-0.16],[-0.2,0.27],[-0.19,0.0],[-0.182,0.53],[-0.174,-0.27],[-0.166,0.16],[-0.157,0.59],[-0.149,-0.05],[-0.14,0.21],[-0.132,-0.37],[-0.124,0.05],[-0.115,0.37],[-0.107,-0.16],[-0.1,0.21],[-0.09,-0.05],[-0.082,-0.43],[-0.073,0.11],[-0.065,0.32],[-0.057,-0.16],[-0.048,0.16],[-0.04,-0.05],[-0.031,0.05],[-0.023,-0.27],[-0.015,0.21],[-0.006,-0.05],[0.002,0.43],[0.01,0.69],[0.017,-0.27],[0.023,0.05],[0.031,-0.48],[0.038,0.21],[0.044,-0.16],[0.052,0.48],[0.061,-0.59],[0.069,-0.05],[0.078,0.16],[0.086,-0.27],[0.094,0.32],[0.103,0.0],[0.111,-0.16],[0.12,0.21],[0.128,0.05],[0.136,0.32],[0.145,-0.11],[0.153,0.16],[0.161,0.05],[0.17,-0.21],[0.178,-0.43],[0.187,0.21],[0.195,-0.05],[0.203,0.69],[0.212,0.11],[0.22,0.32],[0.229,-0.11],[0.237,0.21],[0.245,0.05],[0.254,-0.48],[0.262,0.37],[0.27,-0.48],[0.279,0.16],[0.287,0.0],[0.296,0.32],[0.304,0.74],[0.312,-0.05],[0.32,0.16],[0.33,0.37],[0.338,0.05],[0.346,0.59],[0.354,0.21],[0.363,-0.11],[0.371,0.32],[0.38,0.11],[0.388,0.37],[0.396,0.69],[0.405,-0.48],[0.413,0.21],[0.421,0.43],[0.43,0.05],[0.438,0.32],[0.447,0.74],[0.455,0.16],[0.463,0.48],[0.472,0.27],[0.48,-0.27],[0.488,0.59],[0.497,0.32],[0.505,0.69],[0.514,0.37],[0.522,0.53],[0.53,0.21],[0.539,0.59],[0.547,0.8],[0.556,0.37],[0.564,0.59],[0.572,0.9],[0.58,0.27],[0.59,0.69],[0.598,0.85],[0.606,0.53],[0.614,0.8],[0.623,1.01],[0.631,0.64],[0.64,0.85],[0.648,1.17],[0.656,0.8],[0.665,0.37],[0.673,1.01],[0.681,0.85],[0.69,1.22],[0.698,0.9],[0.706,1.06],[0.715,0.8],[0.723,1.12],[0.732,0.96],[0.74,1.6],[0.748,1.17],[0.757,0.96],[0.765,1.33],[0.774,1.12],[0.782,1.44],[0.79,1.06],[0.8,1.54],[0.807,1.28],[0.816,1.76],[0.824,1.44],[0.832,1.65],[0.84,1.91],[0.85,1.17],[0.857,1.54],[0.866,1.86],[0.874,1.44],[0.883,1.7],[0.89,2.18],[0.9,1.86],[0.908,2.07],[0.916,1.76],[0.925,2.34],[0.933,1.97],[0.941,2.18],[0.95,2.5],[0.958,2.13],[0.966,2.82],[0.975,2.34],[0.983,2.77],[0.987,2.23],[0.992,1.91],[0.996,2.29],[1.0,1.97]];
const cubicStarDense = [[-0.93,-1.75],[-0.89,-1.55],[-0.845,-1.3],[-0.8,-1.05],[-0.76,-0.8],[-0.7,-0.65],[-0.64,-0.55],[-0.58,-0.4],[-0.53,-0.3],[-0.48,-0.25],[-0.42,-0.1],[-0.37,-0.1],[-0.31,-0.05],[-0.25,0.05],[-0.19,0.1],[-0.13,0.1],[-0.07,0.0],[-0.01,0.05],[0.05,0.1],[0.11,0.05],[0.17,0.15],[0.23,0.1],[0.29,0.2],[0.35,0.25],[0.41,0.15],[0.47,0.35],[0.53,0.45],[0.59,0.5],[0.65,0.6],[0.71,0.75],[0.77,0.95],[0.83,1.3],[0.88,1.6],[0.93,2.0],[0.97,2.5]];

const curveStar = [[-1.495,-3.14],[-1.495,-2.96],[-1.49,-2.82],[-1.48,-2.5],[-1.47,-2.05],[-1.465,-2.69],[-1.457,-2.37],[-1.45,-2.1],[-1.44,-2.64],[-1.43,-2.28],[-1.42,-2.46],[-1.41,-2.78],[-1.4,-2.19],[-1.39,-2.55],[-1.38,-3.11],[-1.37,-2.37],[-1.36,-1.83],[-1.35,-2.64],[-1.34,-2.14],[-1.33,-2.46],[-1.32,-1.96],[-1.31,-2.87],[-1.3,-3.28],[-1.3,-2.73],[-1.294,-1.74],[-1.284,-0.97],[-1.275,-1.65],[-1.27,-2.05],[-1.26,-1.24],[-1.25,-1.92],[-1.237,-1.56],[-1.228,-1.78],[-1.218,-1.33],[-1.206,-2.01],[-1.196,-1.56],[-1.187,-1.42],[-1.174,-0.92],[-1.165,-1.74],[-1.155,-1.24],[-1.146,-2.46],[-1.137,-0.92],[-1.127,-1.47],[-1.118,-0.56],[-1.11,-1.06],[-1.102,-1.56],[-1.093,-1.33],[-1.08,-1.83],[-1.07,-0.97],[-1.06,-1.65],[-1.05,-1.1],[-1.04,-1.38],[-1.03,-0.61],[-1.017,-1.56],[-1.008,-0.29],[-1.0,-1.06],[-0.986,-0.43],[-0.976,-1.33],[-0.967,-0.65],[-0.954,-1.47],[-0.945,-0.38],[-0.936,-0.83],[-0.923,-0.47],[-0.91,0.25],[-0.9,-0.7],[-0.89,-0.24],[-0.88,-0.56],[-0.867,-1.24],[-0.854,-0.02],[-0.84,-0.74],[-0.83,-0.38],[-0.82,-1.06],[-0.81,-0.11],[-0.8,-0.65],[-0.788,0.21],[-0.779,-0.29],[-0.766,-0.06],[-0.757,-0.56],[-0.747,0.25],[-0.735,-0.83],[-0.725,-0.24],[-0.716,0.34],[-0.703,-1.06],[-0.694,-0.38],[-0.685,0.07],[-0.672,-0.56],[-0.662,-0.15],[-0.653,0.62],[-0.64,-0.29],[-0.63,0.25],[-0.622,-0.47],[-0.61,0.07],[-0.6,0.48],[-0.59,-0.61],[-0.578,-0.11],[-0.568,-0.7],[-0.56,0.34],[-0.546,-0.29],[-0.537,0.66],[-0.527,0.12],[-0.515,0.93],[-0.505,-0.15],[-0.496,0.39],[-0.484,-0.43],[-0.474,0.16],[-0.465,0.62],[-0.452,-0.06],[-0.443,0.3],[-0.433,0.75],[-0.42,-0.38],[-0.41,0.07],[-0.4,0.52],[-0.39,0.98],[-0.38,0.25],[-0.37,0.7],[-0.358,-0.02],[-0.349,0.43],[-0.34,1.2],[-0.327,0.16],[-0.317,0.62],[-0.308,-0.2],[-0.295,1.25],[-0.286,0.39],[-0.276,1.57],[-0.264,0.07],[-0.254,0.8],[-0.245,-0.11],[-0.232,0.39],[-0.223,1.16],[-0.213,0.75],[-0.2,0.16],[-0.19,0.62],[-0.18,-0.02],[-0.17,0.89],[-0.16,0.34],[-0.15,-0.11],[-0.138,0.52],[-0.129,0.89],[-0.12,0.21],[-0.107,0.7],[-0.097,0.03],[-0.088,1.16],[-0.075,0.43],[-0.066,1.9],[-0.057,1.84],[-0.047,0.98],[-0.038,1.43],[-0.028,0.34],[-0.02,0.75],[-0.006,1.16],[0.003,0.43],[0.013,0.93],[0.025,0.25],[0.035,0.8],[0.044,1.34],[0.057,-1.15],[0.066,0.62],[0.075,0.03],[0.085,1.16],[0.097,0.84],[0.107,1.43],[0.116,0.48],[0.13,0.89],[0.138,0.75],[0.15,1.2],[0.16,0.16],[0.17,0.89],[0.182,-0.11],[0.19,0.75],[0.2,1.97],[0.213,0.57],[0.223,0.98],[0.232,0.39],[0.245,0.8],[0.254,1.52],[0.264,0.66],[0.276,-0.56],[0.286,1.16],[0.295,0.84],[0.308,0.25],[0.317,1.34],[0.327,0.8],[0.34,0.52],[0.35,0.16],[0.358,0.98],[0.37,0.7],[0.38,1.2],[0.39,0.39],[0.4,0.89],[0.41,0.16],[0.42,1.07],[0.433,0.62],[0.443,0.3],[0.452,-0.11],[0.465,0.98],[0.474,0.43],[0.484,0.75],[0.496,0.16],[0.505,0.89],[0.515,1.57],[0.527,0.48],[0.537,1.29],[0.546,0.25],[0.56,0.8],[0.568,0.16],[0.578,0.62],[0.59,0.3],[0.6,0.89],[0.61,0.39],[0.62,1.84],[0.63,0.25],[0.64,1.66],[0.65,0.7],[0.662,1.43],[0.672,0.43],[0.684,0.84],[0.694,1.38],[0.703,0.16],[0.716,0.75],[0.725,1.07],[0.735,0.34],[0.747,0.89],[0.757,-0.2],[0.766,1.75],[0.78,0.62],[0.79,1.02],[0.8,0.25],[0.81,0.75],[0.82,-0.24],[0.83,0.52],[0.84,-0.47],[0.85,1.38],[0.86,0.34],[0.873,0.75],[0.882,-0.11],[0.89,1.11],[0.904,0.48],[0.914,0.12],[0.923,-0.47],[0.936,0.66],[0.945,1.16],[0.955,0.25],[0.967,0.8],[0.976,-0.24],[0.986,0.52],[1.0,0.16],[1.008,0.75],[1.017,0.3],[1.03,-0.29],[1.04,0.93],[1.05,0.52],[1.06,0.07],[1.07,1.61],[1.08,0.43],[1.093,0.25],[1.1,0.7],[1.11,-0.33],[1.124,0.48],[1.133,0.16],[1.143,-0.11],[1.155,1.27],[1.165,0.75],[1.174,-0.29],[1.187,0.3],[1.196,0.93],[1.206,0.07],[1.218,0.52],[1.228,-0.11],[1.237,0.3],[1.25,1.11],[1.26,-0.33],[1.268,0.48],[1.28,0.07],[1.29,0.89],[1.3,0.3],[1.312,-0.11],[1.32,0.57],[1.33,0.16],[1.344,-0.29],[1.353,0.39],[1.363,0.07],[1.375,-0.38],[1.385,0.75],[1.394,0.98],[1.4,0.25],[1.41,-0.11],[1.42,-0.97],[1.425,0.66],[1.43,-0.56],[1.44,0.3],[1.45,-0.33],[1.46,0.48],[1.47,-0.47],[1.48,0.39],[1.49,-0.33],[1.495,0.52]];
const curveStarDense = [[-1.44,-2.4],[-1.41,-2.55],[-1.36,-2.3],[-1.31,-2.2],[-1.26,-1.6],[-1.22,-1.9],[-1.18,-1.55],[-1.13,-1.25],[-1.09,-1.1],[-1.04,-0.95],[-0.99,-0.75],[-0.95,-0.9],[-0.9,-0.5],[-0.86,-0.45],[-0.82,-0.6],[-0.77,-0.35],[-0.73,-0.1],[-0.69,-0.2],[-0.65,0.1],[-0.61,-0.2],[-0.57,0.2],[-0.53,0.3],[-0.49,0.0],[-0.45,0.35],[-0.41,0.4],[-0.36,0.3],[-0.31,0.5],[-0.26,0.4],[-0.22,0.55],[-0.17,0.3],[-0.12,0.55],[-0.08,0.7],[-0.03,0.55],[0.02,0.7],[0.07,0.4],[0.12,0.7],[0.17,0.55],[0.22,0.75],[0.27,0.9],[0.32,0.65],[0.37,0.85],[0.42,0.75],[0.47,0.6],[0.52,0.7],[0.57,0.45],[0.62,0.65],[0.67,0.75],[0.72,0.5],[0.77,0.6],[0.82,0.35],[0.87,0.6],[0.92,0.4],[0.97,0.55],[1.02,0.45],[1.07,0.3],[1.12,0.5],[1.17,0.2],[1.22,0.35],[1.27,0.2],[1.32,0.35],[1.37,0.15],[1.42,0.3],[1.46,0.1]];

const series = [
  sine.concat(sineDense), cubic.concat(cubicDense), curve.concat(curveDense),
  sineStar.concat(sineStarDense), cubicStar.concat(cubicStarDense), curveStar.concat(curveStarDense)
];

// ---------- drawing ----------
const svg = d3.select("#chart");
const panelW = 350, panelH = 212.6;
const colLeft = [69.3, 489.3, 909.3];
const rowTop = [53.3, 382.3];
const ink = "#000";
const dotColor = "#1f77b4";
const fontFam = "'Liberation Serif','Times New Roman',serif";

series.forEach((pts, i) => {
  const col = i % 3, row = Math.floor(i / 3);
  const L = colLeft[col], T = rowTop[row];
  const x = d3.scaleLinear().domain(xLims[i]).range([L, L + panelW]);
  const y = d3.scaleLinear().domain(yLims[i]).range([T + panelH, T]);
  const g = svg.append("g");

  g.append("g").selectAll("circle").data(pts).join("circle")
    .attr("cx", d => x(d[0])).attr("cy", d => y(d[1]))
    .attr("r", 3).attr("fill", dotColor);

  const fmt = d3.format("d");
  const xa = g.append("g").attr("transform", `translate(0,${T + panelH})`)
    .call(d3.axisBottom(x).tickValues(xTicks[i]).tickFormat(fmt).tickSize(10).tickPadding(row === 0 ? 13 : 10).tickSizeOuter(0));
  const ya = g.append("g").attr("transform", `translate(${L},0)`)
    .call(d3.axisLeft(y).tickValues(yTicks[i]).tickFormat(fmt).tickSize(10).tickPadding(11).tickSizeOuter(0));
  [xa, ya].forEach(a => {
    a.select(".domain").remove();
    a.attr("font-family", fontFam).attr("font-size", 29);
    a.selectAll(".tick line").attr("stroke", ink).attr("stroke-width", 2.2);
    a.selectAll(".tick text").attr("fill", ink);
  });
  ya.selectAll(".tick text").attr("dy", "0.34em");

  g.append("rect").attr("x", L).attr("y", T).attr("width", panelW).attr("height", panelH)
    .attr("fill", "none").attr("stroke", ink).attr("stroke-width", 2.2);

  const t = g.append("text").attr("x", L + panelW / 2).attr("y", T - 19)
    .attr("text-anchor", "middle").attr("font-family", fontFam).attr("font-size", 39).attr("fill", ink)
    .text(titles[i]);
  if (starred[i]) t.append("tspan").attr("font-size", 28).attr("dy", -6).text("*");
});
</script>
</body></html>
